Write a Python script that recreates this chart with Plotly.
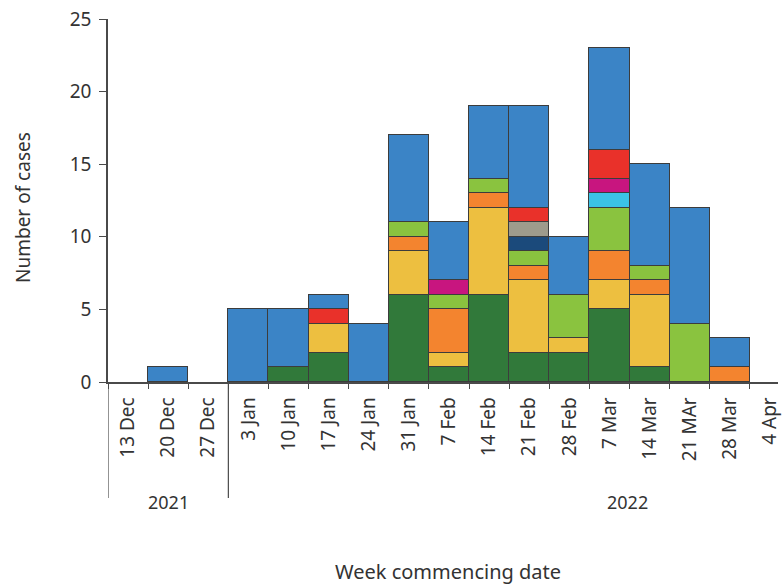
import plotly.graph_objects as go

weeks = ["13 Dec", "20 Dec", "27 Dec", "3 Jan", "10 Jan", "17 Jan", "24 Jan",
         "31 Jan", "7 Feb", "14 Feb", "21 Feb", "28 Feb", "7 Mar", "14 Mar",
         "21 MAr", "28 Mar", "4 Apr"]

# weekly case counts per group, bottom of the stack first
group_dark_green = [0, 0, 0, 0, 1, 2, 0, 6, 1, 6, 2, 2, 5, 1, 0, 0, 0]
group_yellow     = [0, 0, 0, 0, 0, 2, 0, 3, 1, 6, 5, 1, 2, 5, 0, 0, 0]
group_orange     = [0, 0, 0, 0, 0, 0, 0, 1, 3, 1, 1, 0, 2, 1, 0, 1, 0]
group_light_green = [0, 0, 0, 0, 0, 0, 0, 1, 1, 1, 1, 3, 3, 1, 4, 0, 0]
group_navy       = [0, 0, 0, 0, 0, 0, 0, 0, 0, 0, 1, 0, 0, 0, 0, 0, 0]
group_grey       = [0, 0, 0, 0, 0, 0, 0, 0, 0, 0, 1, 0, 0, 0, 0, 0, 0]
group_cyan       = [0, 0, 0, 0, 0, 0, 0, 0, 0, 0, 0, 0, 1, 0, 0, 0, 0]
group_magenta    = [0, 0, 0, 0, 0, 0, 0, 0, 1, 0, 0, 0, 1, 0, 0, 0, 0]
group_red        = [0, 0, 0, 0, 0, 1, 0, 0, 0, 0, 1, 0, 2, 0, 0, 0, 0]
group_blue       = [0, 1, 0, 5, 4, 1, 4, 6, 4, 5, 7, 4, 7, 7, 8, 2, 0]

y_ticks = [0, 5, 10, 15, 20, 25]
year_labels = ["2021", "2022"]

series = [
    ("Group 1", group_dark_green, "#31793a"),
    ("Group 2", group_yellow, "#edbf40"),
    ("Group 3", group_orange, "#f3842f"),
    ("Group 4", group_light_green, "#8ac33f"),
    ("Group 5", group_navy, "#1b4a7b"),
    ("Group 6", group_grey, "#9e9b8c"),
    ("Group 7", group_cyan, "#3bc3e6"),
    ("Group 8", group_magenta, "#c8157f"),
    ("Group 9", group_red, "#e9312a"),
    ("Group 10", group_blue, "#3b84c6"),
]

FONT = "Noto Sans"
TEXT = "#333333"
LINE = "#4a4a4a"

fig = go.Figure()
for name, vals, color in series:
    fig.add_trace(go.Bar(
        x=weeks,
        y=[v if v else None for v in vals],
        name=name,
        marker=dict(color=color, line=dict(color="#3c3c3c", width=1)),
    ))

fig.update_layout(
    width=782, height=586,
    margin=dict(l=108, r=0, t=19, b=204),
    barmode="stack", bargap=0,
    showlegend=False,
    plot_bgcolor="white", paper_bgcolor="white",
    font=dict(family=FONT, color=TEXT, size=14),
)

fig.update_xaxes(
    type="category",
    range=[-0.5, 16.2],
    tickangle=-90,
    tickson="boundaries",
    ticks="outside", ticklen=5, tickcolor=LINE, tickwidth=1.2,
    ticklabelstandoff=6,
    showline=True, linecolor=LINE, linewidth=1.5,
    showgrid=False,
    tickfont=dict(family=FONT, size=19, color=TEXT),
)
fig.update_yaxes(
    range=[0, 25],
    tickvals=y_ticks,
    ticks="outside", ticklen=7, tickcolor=LINE, tickwidth=1.2,
    ticklabelstandoff=4,
    showline=True, linecolor=LINE, linewidth=1.5,
    showgrid=False, zeroline=False,
    tickfont=dict(family=FONT, size=19, color=TEXT),
)

# year separators below the week labels
for xpos in [-0.5, 2.5]:
    fig.add_shape(type="line", xref="x", yref="paper",
                  x0=xpos, x1=xpos, y0=0, y1=-116 / 363,
                  line=dict(color=LINE, width=1.2))

for label, xpos in zip(year_labels, [1, 12.45]):
    fig.add_annotation(text=label, xref="x", yref="paper", x=xpos, y=0,
                       yanchor="middle", yshift=-120, showarrow=False,
                       font=dict(family=FONT, size=18, color=TEXT))

# axis titles
fig.add_annotation(text="Week commencing date", xref="paper", yref="paper",
                   x=(450 - 108) / 674, y=0, xanchor="center",
                   yanchor="middle", yshift=-189, showarrow=False,
                   font=dict(family=FONT, size=20, color=TEXT))
fig.add_annotation(text="Number of cases", xref="paper", yref="paper",
                   x=0, xshift=-85, y=(382 - 208) / 363, textangle=-90,
                   xanchor="center", yanchor="middle", showarrow=False,
                   font=dict(family=FONT, size=19, color=TEXT))

fig.write_html("out.html")
